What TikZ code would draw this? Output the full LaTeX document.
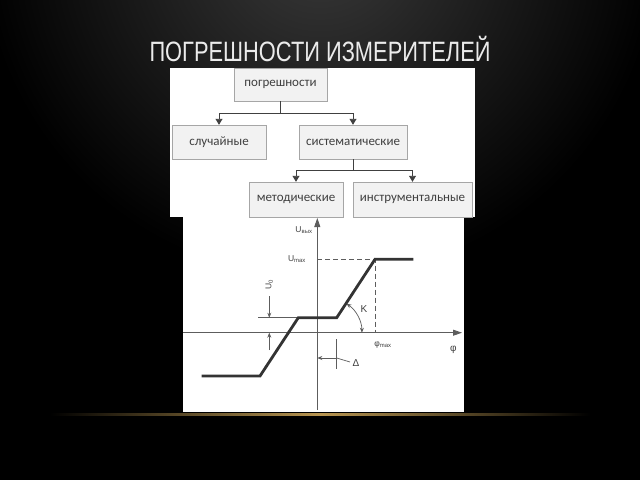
\documentclass[tikz,border=0pt]{standalone}
\usepackage{fontspec}
\setmainfont{Liberation Sans}
\newfontfamily\boxfont{Carlito}
\usetikzlibrary{arrows.meta}

\definecolor{boxfill}{HTML}{F2F2F2}
\definecolor{boxline}{HTML}{A6A6A6}
\definecolor{inkgray}{HTML}{404040}
\definecolor{plotgray}{HTML}{333333}
\definecolor{glowgold}{HTML}{B89550}
\definecolor{topgray}{HTML}{3A3A3A}

\begin{document}
\begin{tikzpicture}[
  x = 1pt, y = -1pt,
  category/.style = {draw = boxline, fill = boxfill, text = inkgray,
    font = \boxfont\fontsize{13}{15}\selectfont, minimum height = 34, inner sep = 0pt},
  link/.style = {draw = inkgray, line width = 0.9pt, -{Triangle[length = 6pt, width = 7pt]}},
  axis/.style = {draw = inkgray!85, line width = 0.8pt, -{Triangle[length = 9pt, width = 6pt]}},
  guide/.style = {draw = inkgray!85, line width = 0.7pt},
  dashguide/.style = {draw = inkgray!85, line width = 0.7pt, dash pattern = on 5pt off 3pt},
  marker/.style = {draw = inkgray!85, line width = 0.7pt, -{Stealth[length = 5pt, width = 4pt]}},
  tag/.style = {text = inkgray, font = \fontsize{8.5}{10}\selectfont, inner sep = 1pt},
  ]

  % background
  \useasboundingbox (0, 0) rectangle (640, 480);
  \fill [black] (0, 0) rectangle (640, 480);
  \begin{scope}
    \clip (0, 0) rectangle (640, 480);
    \shade [inner color = topgray, outer color = black] (320, -60) circle (340);
  \end{scope}
  \shade [left color = black, right color = black, middle color = glowgold]
    (50, 413) rectangle (590, 415.5);

  \node at (320, 61)
  [anchor = base, text = white!92!black, xscale = 0.78,
   font = \fontsize{28}{30}\selectfont, name = Title] {ПОГРЕШНОСТИ ИЗМЕРИТЕЛЕЙ};

  % panels
  \fill [white] (170, 68) rectangle (475, 217);
  \fill [white] (183, 217) rectangle (464, 412);

  % tree
  \node at (280.5, 84.5)
  [category, minimum width = 93, minimum height = 33, name = Pogreshnosti] {погрешности};

  \node at (219, 142)
  [category, minimum width = 94, name = Sluchainye] {случайные};

  \node at (353, 142)
  [category, minimum width = 108, name = Sistematicheskie] {систематические};

  \node at (296, 199.5)
  [category, minimum width = 94, minimum height = 35, name = Metodicheskie] {методические};

  \node at (412.5, 199.5)
  [category, minimum width = 119, minimum height = 35, name = Instrumentalnye] {инструментальные};

  \draw [link] (Pogreshnosti.south) -- ++(0, 12) -| (Sluchainye.north);

  \draw [link] (Pogreshnosti.south) -- ++(0, 12) -| (Sistematicheskie.north);

  \draw [link] (Sistematicheskie.south) -- ++(0, 11) -| (Metodicheskie.north);

  \draw [link] (Sistematicheskie.south) -- ++(0, 11) -| (Instrumentalnye.north);

  % characteristic
  \coordinate (Origin) at (317.3, 332.7);
  \coordinate (Pivot) at (326.9, 332.7);

  \draw [axis] (317.3, 410) -- (317.3, 218);
  \draw [axis] (183, 332.7) -- (462, 332.7);

  \draw [dashguide] (317.3, 259.3) -- (375, 259.3) -- (375, 332.7);

  \draw [guide] (258, 317.7) -- (298.3, 317.7);

  \draw [plotgray, line width = 2.8pt, line join = miter]
    (201.7, 376) -- (260, 376) -- (298.3, 317.7) -- (336.7, 317.7)
    -- (375, 259.3) -- (413.3, 259.3);

  \draw [marker] (269.3, 296) -- (269.3, 317.7);
  \draw [marker] (269.3, 350) -- (269.3, 332.7);

  \draw [guide] (336.7, 339) -- (336.7, 369);
  \draw [marker] (336.7, 358) -- (317.3, 358);
  \draw [guide] (336.7, 358) -- (350, 362);

  \draw [guide, {Stealth[length = 5pt, width = 4pt]}-{Stealth[length = 5pt, width = 4pt]}]
    ([shift = {(0:35)}] Pivot) arc [start angle = 0, end angle = -56, radius = 35];

  \node at (304, 230) [tag, name = Uout] {U\textsubscript{вых}};
  \node at (297, 259.3) [tag, name = Umax] {U\textsubscript{max}};
  \node at (269.3, 285) [tag, rotate = 90, name = Uzero] {U\textsubscript{0}};
  \node at (364, 309) [tag, font = \fontsize{10}{11}\selectfont, name = Gain] {K};
  \node at (383, 345) [tag, name = Phimax] {φ\textsubscript{max}};
  \node at (453.3, 350) [tag, font = \fontsize{10}{11}\selectfont, name = Phi] {φ};
  \node at (356, 362.7) [tag, font = \fontsize{10}{11}\selectfont, name = Delta] {Δ};

\end{tikzpicture}
\end{document}
